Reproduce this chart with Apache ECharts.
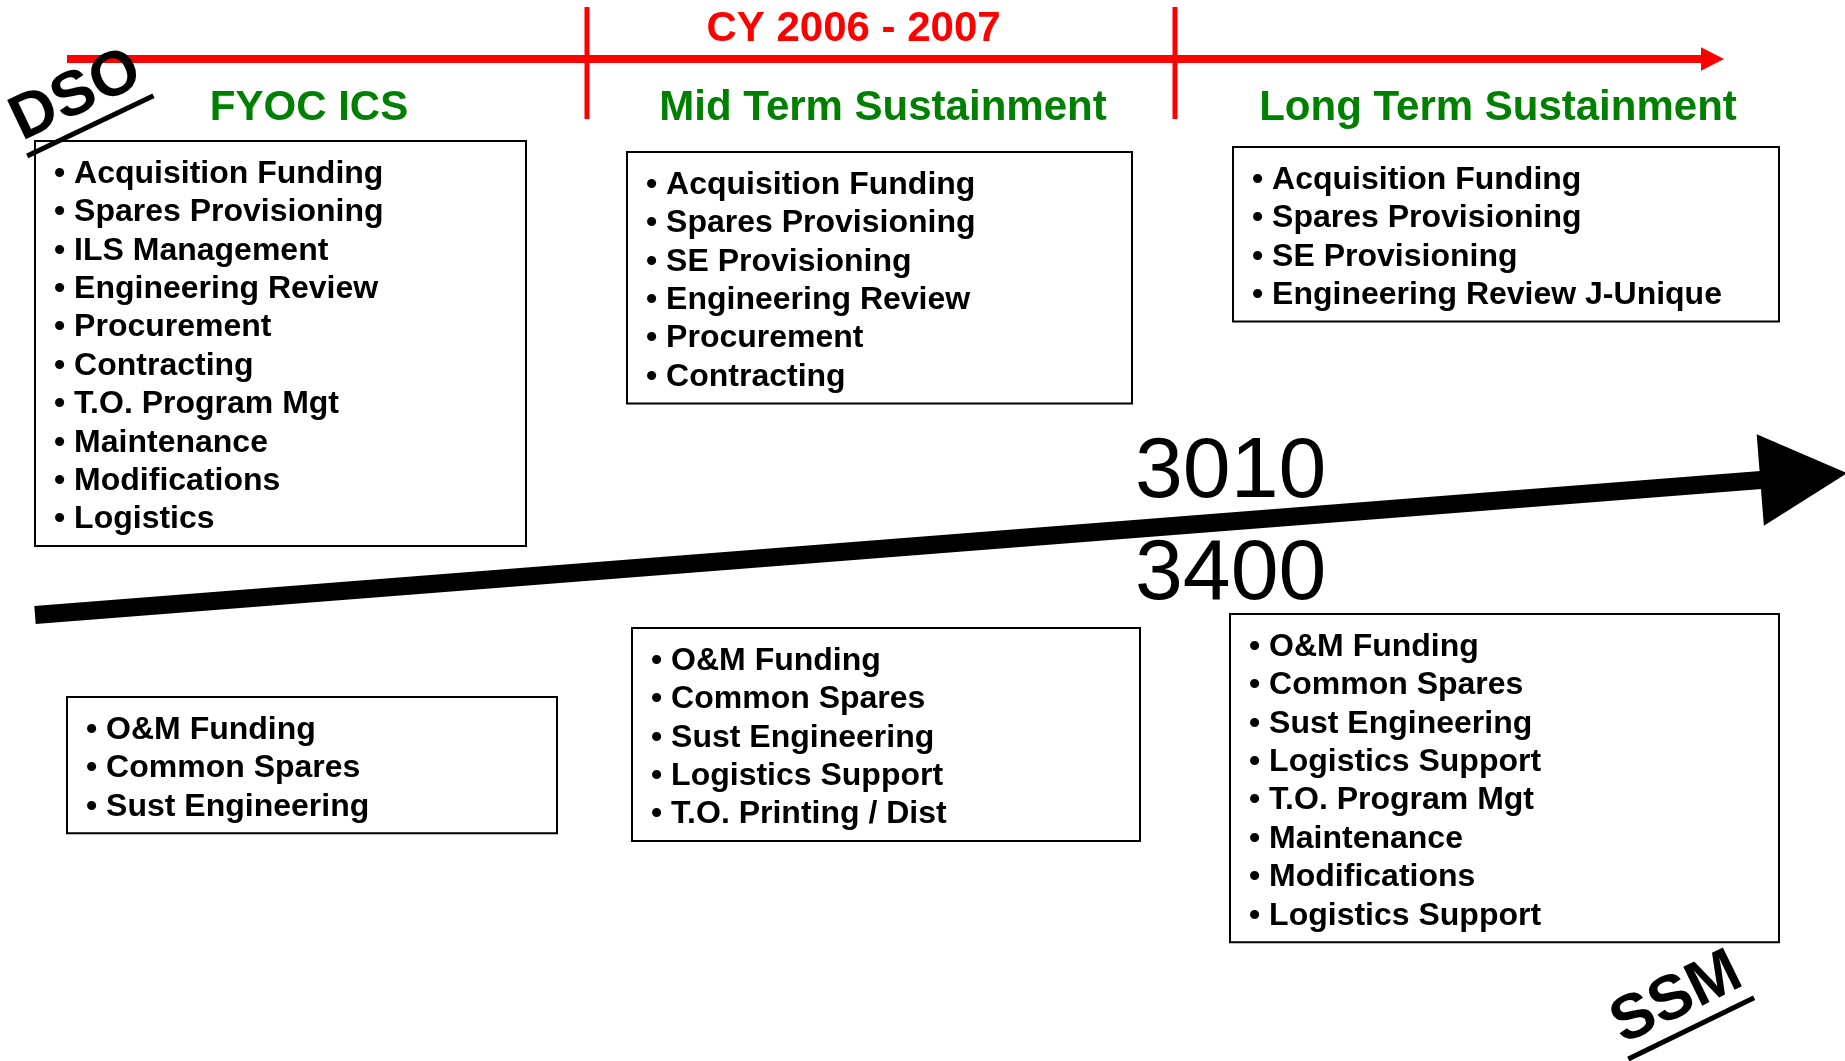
<!DOCTYPE html>
<html>
<head>
<meta charset="utf-8">
<title>DSO / SSM sustainment timeline</title>
<script src="https://cdn.jsdelivr.net/npm/echarts@6/dist/echarts.min.js"></script>
<style>
  html, body { margin: 0; padding: 0; background: #fff; }
  #chart { width: 1845px; height: 1061px; }
</style>
</head>
<body>
<div id="chart"></div>
<script>
// texts
var timelineLabel = 'CY 2006 - 2007';
var phaseTitles = ['FYOC ICS', 'Mid Term Sustainment', 'Long Term Sustainment'];
var fundingLabels = ['3010', '3400'];
var cornerLabels = ['DSO', 'SSM'];

var fyocDso = ['Acquisition Funding', 'Spares Provisioning', 'ILS Management', 'Engineering Review',
  'Procurement', 'Contracting', 'T.O. Program Mgt', 'Maintenance', 'Modifications', 'Logistics'];
var midDso = ['Acquisition Funding', 'Spares Provisioning', 'SE Provisioning', 'Engineering Review',
  'Procurement', 'Contracting'];
var longDso = ['Acquisition Funding', 'Spares Provisioning', 'SE Provisioning', 'Engineering Review J-Unique'];
var fyocSsm = ['O&M Funding', 'Common Spares', 'Sust Engineering'];
var midSsm = ['O&M Funding', 'Common Spares', 'Sust Engineering', 'Logistics Support', 'T.O. Printing / Dist'];
var longSsm = ['O&M Funding', 'Common Spares', 'Sust Engineering', 'Logistics Support', 'T.O. Program Mgt',
  'Maintenance', 'Modifications', 'Logistics Support'];

// layout, in slide units (y grows downward)
var W = 1845, H = 1061;
var FONT = '"Liberation Sans", Arial, sans-serif';
var lists = [fyocDso, midDso, longDso, fyocSsm, midSsm, longSsm];
var boxLeft = [35, 627, 1233, 67, 632, 1230];
var boxTop = [141, 152, 147, 697, 628, 614];
var boxWidth = [491, 505, 546, 490, 508, 549];
var rowGap = 38.4;
var phaseX = [309, 883, 1498];
var phaseY = 108.5;
var tickX = [587, 1175];
var fundingPos = [[1135, 473], [1135, 575]];
var cornerPos = [[75.7, 95.1], [1676.3, 997.8]];
var cornerAngle = [25.5, 26];

var chart = echarts.init(document.getElementById('chart'));

function textEl(p, text, size, weight, color, align) {
  return {
    type: 'text', x: p[0], y: p[1],
    style: {
      text: text, fontFamily: FONT, fontSize: size, fontWeight: weight,
      fill: color, align: align, verticalAlign: 'middle'
    }
  };
}

// red timeline with arrow head
function renderTimeline(params, api) {
  var a = api.coord([api.value(0), api.value(2)]);
  var b = api.coord([api.value(1), api.value(2)]);
  var headLen = 23, half = 11.7;
  return {
    type: 'group',
    children: [
      { type: 'line', shape: { x1: a[0], y1: a[1], x2: b[0] - headLen + 1, y2: b[1] },
        style: { stroke: '#ff0000', lineWidth: 8 } },
      { type: 'polygon', shape: { points: [[b[0] - headLen, b[1] - half], [b[0], b[1]], [b[0] - headLen, b[1] + half]] },
        style: { fill: '#ff0000' } }
    ]
  };
}

function renderTick(params, api) {
  var a = api.coord([api.value(0), api.value(1)]);
  var b = api.coord([api.value(0), api.value(2)]);
  return { type: 'line', shape: { x1: a[0], y1: a[1], x2: b[0], y2: b[1] },
    style: { stroke: '#ff0000', lineWidth: 5 } };
}

// the big black arrow (shaft + triangular head)
function renderBigArrow(params, api) {
  var p0 = api.coord([api.value(0), api.value(1)]);
  var p1 = api.coord([api.value(2), api.value(3)]);
  var dx = p1[0] - p0[0], dy = p1[1] - p0[1];
  var len = Math.sqrt(dx * dx + dy * dy);
  var ux = dx / len, uy = dy / len, nx = -uy, ny = ux;
  var headLen = 87, headHalf = 46, shaftHalf = 9;
  var bx = p1[0] - ux * headLen, by = p1[1] - uy * headLen;
  return {
    type: 'group',
    children: [
      { type: 'polygon', shape: { points: [
          [p0[0] + nx * shaftHalf, p0[1] + ny * shaftHalf],
          [bx + ux * 4 + nx * shaftHalf, by + uy * 4 + ny * shaftHalf],
          [bx + ux * 4 - nx * shaftHalf, by + uy * 4 - ny * shaftHalf],
          [p0[0] - nx * shaftHalf, p0[1] - ny * shaftHalf]] },
        style: { fill: '#000' } },
      { type: 'polygon', shape: { points: [
          [bx + nx * headHalf, by + ny * headHalf], [p1[0], p1[1]], [bx - nx * headHalf, by - ny * headHalf]] },
        style: { fill: '#000' } }
    ]
  };
}

function renderBox(params, api) {
  var i = params.dataIndex;
  var items = lists[i];
  var x0 = api.value(0), y0 = api.value(1);
  var tl = api.coord([x0, y0]);
  var size = api.size([boxWidth[i], items.length * rowGap + 21]);
  var children = [{
    type: 'rect',
    shape: { x: tl[0], y: tl[1], width: size[0], height: size[1] },
    style: { fill: 'none', stroke: '#000', lineWidth: 2 }
  }];
  items.forEach(function (t, k) {
    var p = api.coord([x0 + 19, y0 + 33 + k * rowGap]);
    children.push(textEl(p, '\u2022 ' + t, 32, 'bold', '#000', 'left'));
  });
  return { type: 'group', children: children };
}

function renderPhase(params, api) {
  var p = api.coord([api.value(0), api.value(1)]);
  return textEl(p, phaseTitles[params.dataIndex], 42, 'bold', '#008000', 'center');
}

function renderCy(params, api) {
  var p = api.coord([api.value(0), api.value(1)]);
  return textEl(p, timelineLabel, 42, 'bold', '#ff0000', 'center');
}

function renderFunding(params, api) {
  var p = api.coord([api.value(0), api.value(1)]);
  return textEl(p, fundingLabels[params.dataIndex], 86, 'normal', '#000', 'left');
}

function renderCorner(params, api) {
  var i = params.dataIndex;
  var p = api.coord([api.value(0), api.value(1)]);
  return {
    type: 'group', x: p[0], y: p[1], rotation: cornerAngle[i] * Math.PI / 180,
    children: [
      textEl([0, 1], cornerLabels[i], 63, 'bold', '#000', 'center'),
      { type: 'line', shape: { x1: -70, y1: 34, x2: 70, y2: 34 }, style: { stroke: '#000', lineWidth: 5 } }
    ]
  };
}

var option = {
  backgroundColor: '#fff',
  animation: false,
  grid: { left: 0, right: 0, top: 0, bottom: 0 },
  xAxis: { type: 'value', min: 0, max: W, show: false },
  yAxis: { type: 'value', min: 0, max: H, inverse: true, show: false },
  series: [
    { type: 'custom', clip: false, renderItem: renderTimeline, data: [[67, 1724, 59]] },
    { type: 'custom', clip: false, renderItem: renderTick, data: tickX.map(function (x) { return [x, 7, 119]; }) },
    { type: 'custom', clip: false, renderItem: renderCy, data: [[853.5, 29]] },
    { type: 'custom', clip: false, renderItem: renderPhase, data: phaseX.map(function (x) { return [x, phaseY]; }) },
    { type: 'custom', clip: false, renderItem: renderBigArrow, data: [[35, 615, 1847, 473.2]] },
    { type: 'custom', clip: false, renderItem: renderFunding, data: fundingPos },
    { type: 'custom', clip: false, renderItem: renderBox,
      data: lists.map(function (l, i) { return [boxLeft[i], boxTop[i]]; }) },
    { type: 'custom', clip: false, renderItem: renderCorner, data: cornerPos }
  ]
};

chart.setOption(option);
</script>
</body>
</html>
